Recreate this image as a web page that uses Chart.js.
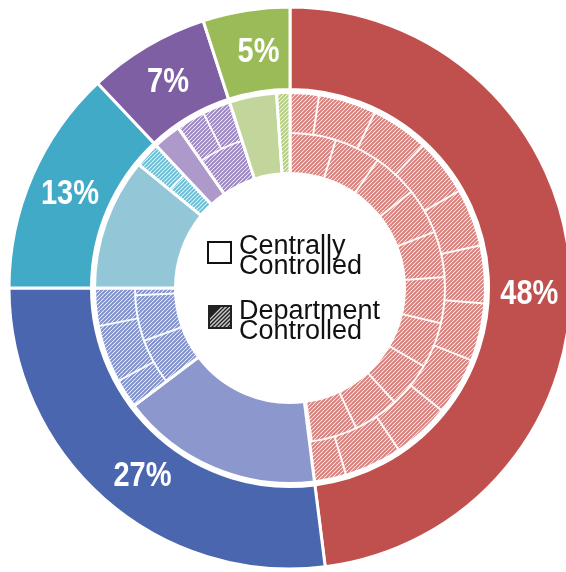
<!DOCTYPE html>
<html>
<head>
<meta charset="utf-8">
<script src="https://cdn.jsdelivr.net/npm/chart.js@4"></script>
<style>
  html, body { margin: 0; padding: 0; background: #ffffff; }
  #wrap { width: 566px; height: 572px; position: relative; }
</style>
</head>
<body>
<div id="wrap"><canvas id="c" width="566" height="572"></canvas></div>
<script>
// ---- data ----
const categories = ['Category 1', 'Category 2', 'Category 3', 'Category 4', 'Category 5'];
const totalShare = [48, 27, 13, 7, 5];
const centrallyControlled = [0, 16.7, 10.9, 2.3, 3.9];
const departmentControlled = [48, 10.3, 2.1, 4.7, 1.1];
const percentLabels = ['48%', '27%', '13%', '7%', '5%'];
const legendLabels = [['Centrally', 'Controlled'], ['Department', 'Controlled']];

// ---- styles ----
const outerColors = ['#C0504D', '#4A66AF', '#41AAC6', '#7F5FA3', '#9BBB59'];
const lightColors = ['#E39C99', '#8B97CD', '#93C7D8', '#AD9ACB', '#C2D69B'];
const stripeColors = ['#D8807C', '#7F90CC', '#6DBED5', '#9C86C2', '#B3CC7E'];
const labelNudge = [[0, 20], [11, 7], [0, 0], [0, 0], [6, 0]];

const canvas = document.getElementById('c');
const ctx0 = canvas.getContext('2d');

function hatch(color) {
  const s = 4;
  const c = document.createElement('canvas');
  c.width = s; c.height = s;
  const x = c.getContext('2d');
  x.fillStyle = '#ffffff';
  x.fillRect(0, 0, s, s);
  x.strokeStyle = color;
  x.lineWidth = 2;
  x.beginPath();
  x.moveTo(0, s); x.lineTo(s, 0);
  x.moveTo(-s, s); x.lineTo(s, -s);
  x.moveTo(0, 2 * s); x.lineTo(2 * s, 0);
  x.stroke();
  return ctx0.createPattern(c, 'repeat');
}

// inner ring: for each category, centrally controlled then department controlled
const innerData = [];
const innerColors = [];
const innerIsHatched = [];
const innerLabels = [];
categories.forEach((cat, i) => {
  innerData.push(centrallyControlled[i]);
  innerColors.push(lightColors[i]);
  innerIsHatched.push(false);
  innerLabels.push(cat + ' – Centrally Controlled');
  innerData.push(departmentControlled[i]);
  innerColors.push(hatch(stripeColors[i]));
  innerIsHatched.push(true);
  innerLabels.push(cat + ' – Department Controlled');
});

const hatchGridPlugin = {
  id: 'hatchGrid',
  afterDatasetsDraw(chart) {
    const meta = chart.getDatasetMeta(2);
    const ctx = chart.ctx;
    ctx.save();
    ctx.strokeStyle = 'rgba(255,255,255,0.95)';
    ctx.lineWidth = 2;
    meta.data.forEach((arc, i) => {
      if (!innerIsHatched[i]) return;
      const p = arc.getProps(['x', 'y', 'startAngle', 'endAngle', 'innerRadius', 'outerRadius'], true);
      const span = p.endAngle - p.startAngle;
      if (span < 0.12) return;
      const mid = (p.innerRadius + p.outerRadius) / 2;
      ctx.save();
      ctx.beginPath();
      ctx.arc(p.x, p.y, p.outerRadius, p.startAngle, p.endAngle);
      ctx.arc(p.x, p.y, p.innerRadius, p.endAngle, p.startAngle, true);
      ctx.closePath();
      ctx.clip();
      ctx.beginPath();
      ctx.arc(p.x, p.y, mid, p.startAngle, p.endAngle);
      ctx.stroke();
      const step = 0.3;
      for (let a = p.startAngle + step * 0.5; a < p.endAngle; a += step) {
        ctx.beginPath();
        ctx.moveTo(p.x + Math.cos(a) * mid, p.y + Math.sin(a) * mid);
        ctx.lineTo(p.x + Math.cos(a) * p.outerRadius, p.y + Math.sin(a) * p.outerRadius);
        ctx.stroke();
      }
      for (let a = p.startAngle + step; a < p.endAngle; a += step) {
        ctx.beginPath();
        ctx.moveTo(p.x + Math.cos(a) * p.innerRadius, p.y + Math.sin(a) * p.innerRadius);
        ctx.lineTo(p.x + Math.cos(a) * mid, p.y + Math.sin(a) * mid);
        ctx.stroke();
      }
      ctx.restore();
    });
    ctx.restore();
  }
};

const labelPlugin = {
  id: 'outerLabels',
  afterDraw(chart) {
    const ctx = chart.ctx;
    const meta = chart.getDatasetMeta(0);
    ctx.save();
    ctx.fillStyle = '#ffffff';
    ctx.font = 'bold 29px "Liberation Sans", Arial, sans-serif';
    ctx.textAlign = 'center';
    ctx.textBaseline = 'middle';
    meta.data.forEach((arc, i) => {
      const p = arc.getProps(['x', 'y', 'startAngle', 'endAngle', 'innerRadius', 'outerRadius'], true);
      const a = (p.startAngle + p.endAngle) / 2;
      const r = (p.innerRadius + p.outerRadius) / 2;
      const x = p.x + Math.cos(a) * r + labelNudge[i][0];
      const y = p.y + Math.sin(a) * r + labelNudge[i][1];
      ctx.save();
      ctx.translate(x, y);
      ctx.scale(1, 1.2);
      ctx.fillText(percentLabels[i], 0, 1);
      ctx.restore();
    });

    // centre legend
    ctx.textAlign = 'left';
    ctx.textBaseline = 'alphabetic';
    const cx = meta.data[0].x, cy = meta.data[0].y;
    const bx = cx - 82, tx = cx - 51;
    // box 1: empty
    ctx.lineWidth = 2;
    ctx.strokeStyle = '#111111';
    ctx.fillStyle = '#ffffff';
    ctx.fillRect(bx, cy - 46, 23, 21);
    ctx.strokeRect(bx, cy - 46, 23, 21);
    // box 2: hatched
    const by2 = cy + 17;
    ctx.fillStyle = '#222222';
    ctx.fillRect(bx, by2, 24, 24);
    ctx.save();
    ctx.beginPath();
    ctx.rect(bx + 2, by2 + 2, 20, 20);
    ctx.clip();
    ctx.strokeStyle = '#c8c8c8';
    ctx.lineWidth = 1.5;
    for (let k = -24; k < 30; k += 4) {
      ctx.beginPath();
      ctx.moveTo(bx + k, by2 + 24);
      ctx.lineTo(bx + k + 24, by2);
      ctx.stroke();
    }
    ctx.fillStyle = '#222222';
    ctx.beginPath();
    ctx.moveTo(bx + 2, by2 + 2);
    ctx.lineTo(bx + 13, by2 + 2);
    ctx.lineTo(bx + 2, by2 + 13);
    ctx.closePath();
    ctx.fill();
    ctx.restore();

    ctx.fillStyle = '#111111';
    ctx.font = '27px "Liberation Sans", Arial, sans-serif';
    ctx.fillText(legendLabels[0][0], tx, cy - 34);
    ctx.fillText(legendLabels[0][1], tx, cy - 14);
    ctx.fillText(legendLabels[1][0], tx, cy + 31);
    ctx.fillText(legendLabels[1][1], tx, cy + 51);
    ctx.restore();
  }
};

new Chart(canvas, {
  type: 'doughnut',
  data: {
    labels: innerLabels,
    datasets: [
      {
        label: 'Share',
        data: totalShare,
        backgroundColor: outerColors,
        borderColor: '#ffffff',
        borderWidth: 3,
        weight: 82.5,
        clip: false
      },
      {
        label: 'gap',
        data: [1],
        backgroundColor: 'rgba(0,0,0,0)',
        borderWidth: 0,
        weight: 3,
        clip: false
      },
      {
        label: 'Control',
        data: innerData,
        backgroundColor: innerColors,
        borderColor: '#ffffff',
        borderWidth: 3,
        weight: 81,
        clip: false
      }
    ]
  },
  options: {
    responsive: false,
    animation: false,
    radius: 281,
    cutout: '40.75%',
    layout: { padding: { left: 14, top: 4, right: 0, bottom: 0 } },
    plugins: {
      legend: { display: false },
      tooltip: { enabled: false }
    },
    hoverOffset: 0
  },
  plugins: [hatchGridPlugin, labelPlugin]
});
</script>
</body>
</html>
